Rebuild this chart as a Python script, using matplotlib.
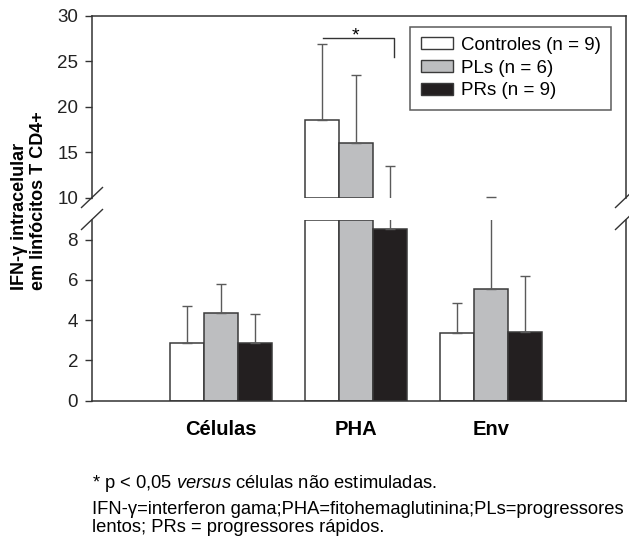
import numpy as np
import matplotlib
matplotlib.use("Agg")
import matplotlib.pyplot as plt
from matplotlib.patches import Patch

plt.rcParams['font.family'] = ['Liberation Sans', 'DejaVu Sans']
plt.rcParams['mathtext.fontset'] = 'custom'
plt.rcParams['mathtext.it'] = 'Liberation Sans:italic'
plt.rcParams['mathtext.rm'] = 'Liberation Sans'

# ---- data ----
categories = ["Células", "PHA", "Env"]
groups = ["Controles (n = 9)", "PLs (n = 6)", "PRs (n = 9)"]
controles_mean = [2.87, 18.56, 3.37]
controles_sd = [1.84, 8.40, 1.47]
pls_mean = [4.34, 15.99, 5.54]
pls_sd = [1.43, 7.56, 4.51]
prs_mean = [2.84, 8.53, 3.41]
prs_sd = [1.47, 4.96, 2.76]
low_ticks = [0, 2, 4, 6, 8]
high_ticks = [10, 15, 20, 25, 30]

means = [controles_mean, pls_mean, prs_mean]
sds = [controles_sd, pls_sd, prs_sd]
colors = ["#ffffff", "#bdbec0", "#231f20"]
edge = "#3a3a3a"
errc = "#5a5a5a"

W, H = 629, 536
fig = plt.figure(figsize=(W / 100, H / 100), dpi=100)

left, right = 92, 626
ax_top = fig.add_axes([left / W, 1 - 197.5 / H, (right - left) / W, 181.5 / H])
ax_low = fig.add_axes([left / W, 1 - 400.5 / H, (right - left) / W, 181 / H])

low_max, high_min, high_max = 9, 10, 30
x = np.arange(len(categories))
bw = 0.252
offsets = [-bw, 0, bw]

for i in range(3):
    m = np.array(means[i])
    s = np.array(sds[i])
    xi = x + offsets[i]
    # lower panel
    ax_low.bar(xi, np.minimum(m, low_max), width=bw, color=colors[i],
               edgecolor=edge, linewidth=1.1, zorder=2)
    ax_low.errorbar(xi, m, yerr=[np.zeros_like(s), s], fmt='none',
                    ecolor=errc, elinewidth=1.0, capsize=3.6, capthick=1.0, zorder=3)
    # upper panel
    mask = m > high_min
    ax_top.bar(xi[mask], m[mask] - high_min, bottom=high_min, width=bw,
               color=colors[i], edgecolor=edge, linewidth=1.1, zorder=2)
    ax_top.errorbar(xi, m, yerr=[np.zeros_like(s), s], fmt='none',
                    ecolor=errc, elinewidth=1.0, capsize=3.6, capthick=1.0, zorder=3)

xlim = (-0.955, 3.0)
for ax in (ax_top, ax_low):
    ax.set_xlim(*xlim)
    for sp in ax.spines.values():
        sp.set_color("#333333")
        sp.set_linewidth(1.1)
    ax.tick_params(axis='y', direction='out', length=5, width=1.0,
                   color="#333333", labelsize=13.5, pad=5, labelcolor="#222222")
    ax.tick_params(axis='x', length=0)

ax_low.set_ylim(0, low_max)
ax_low.set_yticks(low_ticks)
ax_low.spines['top'].set_visible(False)
ax_low.set_xticks(x)
ax_low.set_xticklabels(categories, fontsize=14.5, fontweight='bold')
ax_low.tick_params(axis='x', pad=14)

ax_top.set_ylim(high_min, high_max)
ax_top.set_yticks(high_ticks)
ax_top.spines['bottom'].set_visible(False)
ax_top.set_xticks([])

# break marks
def brk(ax, yfrac):
    bb = ax.get_position()
    dx = 10.5 / (bb.width * W)
    dy = 10.0 / (bb.height * H)
    for xf in (0, 1):
        ax.plot([xf - dx, xf + dx], [yfrac - dy, yfrac + dy], transform=ax.transAxes,
                color="#333333", lw=1.0, clip_on=False, zorder=5)
brk(ax_top, 0)
brk(ax_low, 1)

# significance bracket
ax_top.plot([0.756, 1.28, 1.28], [27.6, 27.6, 25.5], color="#333333", lw=1.0)
ax_top.text(1.0, 27.35, "*", ha='center', va='baseline', fontsize=14)

# legend
handles = [Patch(facecolor=colors[i], edgecolor=edge, linewidth=1.0) for i in range(3)]
leg = ax_top.legend(handles, groups, loc='upper right', bbox_to_anchor=(0.972, 0.941),
                    borderaxespad=0, fontsize=13.5, frameon=True, fancybox=False,
                    handlelength=1.75, handleheight=0.62, handletextpad=0.4,
                    labelspacing=0.3, borderpad=0.55)
leg.get_frame().set_edgecolor("#333333")
leg.get_frame().set_linewidth(1.1)

# y label
fig.text(29 / W, 1 - 201 / H, "IFN-γ intracelular\nem linfócitos T CD4+", rotation=90,
         ha='center', va='center', multialignment='left', fontsize=13,
         fontweight='bold', linespacing=1.15)

# footnotes
fx = 92 / W
fs = 13.2
fig.text(fx, 1 - 488 / H, "* p < 0,05 $versus$ células não estimuladas.",
         fontsize=fs, va='baseline', ha='left')
fig.text(fx, 1 - 513.5 / H, "IFN-γ=interferon gama;PHA=fitohemaglutinina;PLs=progressores",
         fontsize=fs, va='baseline', ha='left')
fig.text(fx, 1 - 531.5 / H, "lentos; PRs = progressores rápidos.",
         fontsize=fs, va='baseline', ha='left')

fig.savefig("out.png", dpi=100)
